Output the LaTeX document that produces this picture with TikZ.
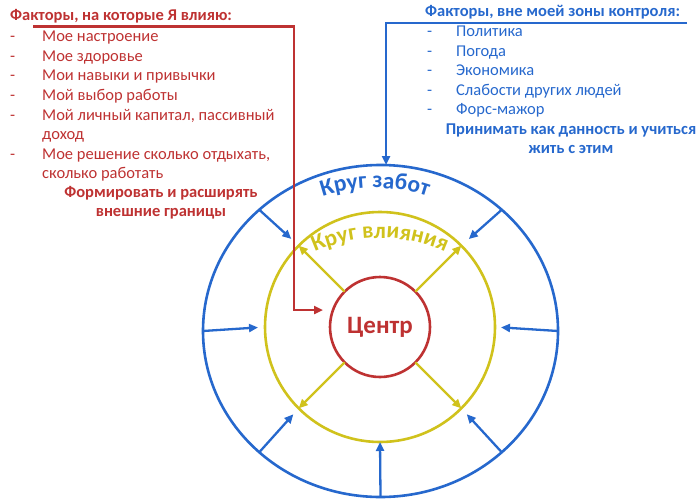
\documentclass[tikz,border=0pt]{standalone}
\usepackage{fontspec}
\setmainfont{Carlito}
\usetikzlibrary{arrows.meta,shapes.geometric,decorations.text}
\definecolor{redc}{RGB}{190,50,50}
\definecolor{bluec}{RGB}{38,104,205}
\definecolor{yelc}{RGB}{208,194,28}
\tikzset{
  ring/.style={draw, line width=2.6pt, inner sep=0pt, outer sep=0pt},
  rarrow/.style={redc, line width=2.6pt, -{Triangle[length=9pt,width=8pt]}},
  barrow/.style={bluec, line width=2.3pt, -{Triangle[length=9pt,width=8pt]}},
  yarrow/.style={yelc, line width=2.3pt, -{Triangle[length=9pt,width=8pt]}},
  listtext/.style={anchor=base west, inner sep=0pt, font=\fontsize{16.5}{19.5}\selectfont},
  boldtext/.style={anchor=base, inner sep=0pt, font=\bfseries\fontsize{16.5}{19.8}\selectfont}
}
\begin{document}
\begin{tikzpicture}[x=1pt,y=-1pt]
\useasboundingbox (0,0) rectangle (700,500);
\node[ring, ellipse, draw=bluec, minimum width=355pt, minimum height=332pt] (zabot) at (380.5,331) {};
\node[ring, circle, draw=yelc, minimum size=230pt] (vliyanie) at (380,327) {};
\node[ring, circle, draw=redc, minimum size=100pt, text=redc, font=\bfseries\fontsize{25}{28}\selectfont] (centr) at (380,327) {Центр};
\foreach \a/\s in {0/6,45/10,135/10,180/7,225/8,270/0,315/8}
  \draw[barrow, shorten >=\s pt] (zabot.\a) -- (vliyanie.\a);
\foreach \a in {45,135,225,315}
  \draw[yarrow] (centr.\a) -- (vliyanie.\a);
\path[decorate, decoration={text along path, text align=center,
  text={|\color{bluec}\bfseries\fontsize{23.5}{26}\selectfont|Круг забот}}]
  (375,350) ++(240:162) arc (240:300:162);
\path[decorate, decoration={text along path, text align=center,
  text={|\color{yelc}\bfseries\fontsize{23}{26}\selectfont|Круг влияния}}]
  (380,395) ++(240:157) arc (240:300:157);
% red side
\node[listtext, text=redc, font=\bfseries\fontsize{16.5}{19.5}\selectfont] (rtitle) at (10,21) {Факторы, на которые Я влияю:};
\node[listtext, text=redc] (rlist) at (10,42) {\begin{tabular}[t]{@{}p{32pt}@{}l@{}}
-&Мое настроение\\
-&Мое здоровье\\
-&Мои навыки и привычки\\
-&Мой выбор работы\\
-&Мой личный капитал, пассивный\\
&доход\\
-&Мое решение сколько отдыхать,\\
&сколько работать
\end{tabular}};
\node[boldtext, text=redc] (rgoal) at (161,197) {\begin{tabular}[t]{@{}c@{}}Формировать и расширять\\внешние границы\end{tabular}};
\coordinate (rstart) at (33,26.5);
\coordinate (rturn) at (294,310);
\coordinate (rend) at (323,310);
\draw[rarrow] (rstart) -| (rturn) -- (rend);
% blue side
\node[listtext, text=bluec, font=\bfseries\fontsize{16.5}{19.5}\selectfont] (btitle) at (425,17) {Факторы, вне моей зоны контроля:};
\node[listtext, text=bluec] (blist) at (427,37) {\begin{tabular}[t]{@{}p{29pt}@{}l@{}}
-&Политика\\
-&Погода\\
-&Экономика\\
-&Слабости других людей\\
-&Форс-мажор
\end{tabular}};
\node[boldtext, text=bluec] (bgoal) at (571,134) {\begin{tabular}[t]{@{}c@{}}Принимать как данность и учиться\\жить с этим\end{tabular}};
\coordinate (bstart) at (687,23);
\coordinate (bturn) at (386,23);
\draw[barrow] (bstart) -- (bturn) -- (bturn |- zabot.north);
\end{tikzpicture}
\end{document}
